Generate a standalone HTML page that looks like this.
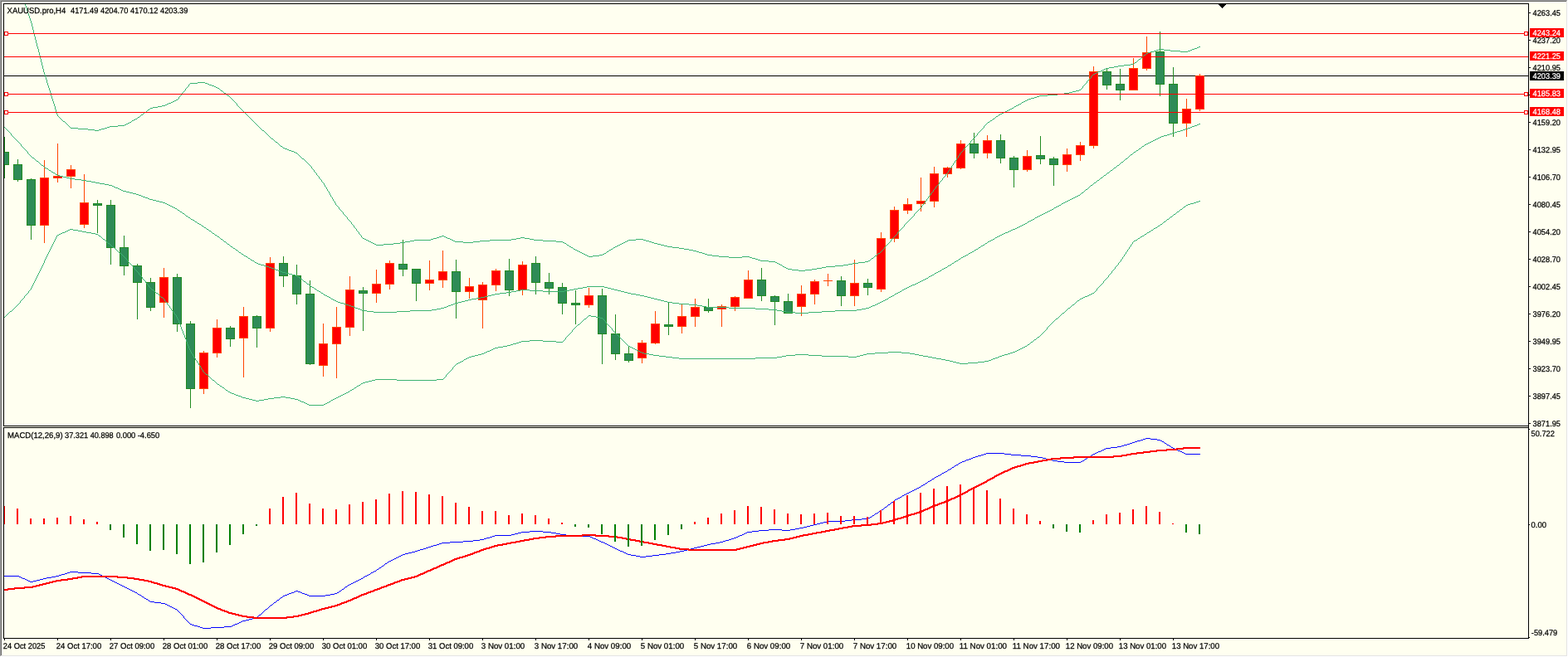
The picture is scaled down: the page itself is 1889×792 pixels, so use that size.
<!DOCTYPE html>
<html lang="en"><head><meta charset="utf-8"><title>XAUUSD.pro,H4</title>
<style>html,body{margin:0;padding:0;width:1889px;height:792px;overflow:hidden;background:#fffff0}svg{display:block;position:absolute;left:0;top:0}text{text-rendering:geometricPrecision;font-family:"Liberation Sans",sans-serif;font-size:9.8px;fill:#000;stroke:#000;stroke-width:0.25px}</style></head><body>
<svg width="1889" height="792" viewBox="0 0 1889 792" shape-rendering="crispEdges">
<rect x="0" y="0" width="1889" height="792" fill="#fffff0"/>
<rect x="0" y="0" width="1889" height="1" fill="#a0a0a0"/><rect x="0" y="0" width="1" height="792" fill="#a0a0a0"/>
<rect x="1" y="1" width="1887" height="1" fill="#696969"/><rect x="1" y="1" width="1" height="790" fill="#696969"/>
<rect x="1887" y="1" width="1" height="790" fill="#e3e3e3"/><rect x="1" y="790" width="1887" height="1" fill="#e3e3e3"/>
<rect x="1888" y="0" width="1" height="792" fill="#ffffff"/><rect x="0" y="791" width="1889" height="1" fill="#ffffff"/>
<defs><clipPath id="cm"><rect x="5" y="5" width="1836" height="508"/></clipPath><clipPath id="cs"><rect x="5" y="516" width="1836" height="253"/></clipPath></defs>
<g clip-path="url(#cm)">
<rect x="5" y="91" width="1836" height="1" fill="#000000"/>
<rect x="5" y="165" width="1" height="50" fill="#228b22"/>
<rect x="0" y="183" width="11" height="16" fill="#228b22"/>
<rect x="1" y="184" width="9" height="14" fill="#2e8b57"/>
<rect x="21" y="192" width="1" height="27" fill="#228b22"/>
<rect x="16" y="198" width="11" height="19" fill="#228b22"/>
<rect x="17" y="199" width="9" height="17" fill="#2e8b57"/>
<rect x="37" y="215" width="1" height="74" fill="#228b22"/>
<rect x="32" y="216" width="11" height="56" fill="#228b22"/>
<rect x="33" y="217" width="9" height="54" fill="#2e8b57"/>
<rect x="53" y="193" width="1" height="100" fill="#ff4500"/>
<rect x="48" y="214" width="11" height="58" fill="#ff4500"/>
<rect x="49" y="215" width="9" height="56" fill="#ff0000"/>
<rect x="69" y="173" width="1" height="47" fill="#ff4500"/>
<rect x="64" y="212" width="11" height="3" fill="#ff4500"/>
<rect x="65" y="213" width="9" height="1" fill="#ff0000"/>
<rect x="85" y="199" width="1" height="28" fill="#ff4500"/>
<rect x="80" y="204" width="11" height="9" fill="#ff4500"/>
<rect x="81" y="205" width="9" height="7" fill="#ff0000"/>
<rect x="101" y="210" width="1" height="65" fill="#ff4500"/>
<rect x="96" y="244" width="11" height="27" fill="#ff4500"/>
<rect x="97" y="245" width="9" height="25" fill="#ff0000"/>
<rect x="117" y="241" width="1" height="40" fill="#228b22"/>
<rect x="112" y="245" width="11" height="3" fill="#228b22"/>
<rect x="113" y="246" width="9" height="1" fill="#2e8b57"/>
<rect x="133" y="241" width="1" height="78" fill="#228b22"/>
<rect x="128" y="247" width="11" height="52" fill="#228b22"/>
<rect x="129" y="248" width="9" height="50" fill="#2e8b57"/>
<rect x="149" y="284" width="1" height="48" fill="#228b22"/>
<rect x="144" y="298" width="11" height="23" fill="#228b22"/>
<rect x="145" y="299" width="9" height="21" fill="#2e8b57"/>
<rect x="165" y="318" width="1" height="67" fill="#228b22"/>
<rect x="160" y="320" width="11" height="21" fill="#228b22"/>
<rect x="161" y="321" width="9" height="19" fill="#2e8b57"/>
<rect x="181" y="335" width="1" height="40" fill="#228b22"/>
<rect x="176" y="340" width="11" height="31" fill="#228b22"/>
<rect x="177" y="341" width="9" height="29" fill="#2e8b57"/>
<rect x="197" y="323" width="1" height="60" fill="#ff4500"/>
<rect x="192" y="334" width="11" height="31" fill="#ff4500"/>
<rect x="193" y="335" width="9" height="29" fill="#ff0000"/>
<rect x="213" y="330" width="1" height="70" fill="#228b22"/>
<rect x="208" y="334" width="11" height="57" fill="#228b22"/>
<rect x="209" y="335" width="9" height="55" fill="#2e8b57"/>
<rect x="229" y="387" width="1" height="105" fill="#228b22"/>
<rect x="224" y="390" width="11" height="79" fill="#228b22"/>
<rect x="225" y="391" width="9" height="77" fill="#2e8b57"/>
<rect x="245" y="423" width="1" height="52" fill="#ff4500"/>
<rect x="240" y="425" width="11" height="44" fill="#ff4500"/>
<rect x="241" y="426" width="9" height="42" fill="#ff0000"/>
<rect x="261" y="385" width="1" height="46" fill="#ff4500"/>
<rect x="256" y="395" width="11" height="31" fill="#ff4500"/>
<rect x="257" y="396" width="9" height="29" fill="#ff0000"/>
<rect x="277" y="393" width="1" height="25" fill="#228b22"/>
<rect x="272" y="395" width="11" height="14" fill="#228b22"/>
<rect x="273" y="396" width="9" height="12" fill="#2e8b57"/>
<rect x="293" y="370" width="1" height="85" fill="#ff4500"/>
<rect x="288" y="381" width="11" height="27" fill="#ff4500"/>
<rect x="289" y="382" width="9" height="25" fill="#ff0000"/>
<rect x="309" y="380" width="1" height="39" fill="#228b22"/>
<rect x="304" y="381" width="11" height="15" fill="#228b22"/>
<rect x="305" y="382" width="9" height="13" fill="#2e8b57"/>
<rect x="325" y="310" width="1" height="90" fill="#ff4500"/>
<rect x="320" y="317" width="11" height="79" fill="#ff4500"/>
<rect x="321" y="318" width="9" height="77" fill="#ff0000"/>
<rect x="341" y="309" width="1" height="37" fill="#228b22"/>
<rect x="336" y="317" width="11" height="16" fill="#228b22"/>
<rect x="337" y="318" width="9" height="14" fill="#2e8b57"/>
<rect x="357" y="319" width="1" height="48" fill="#228b22"/>
<rect x="352" y="332" width="11" height="23" fill="#228b22"/>
<rect x="353" y="333" width="9" height="21" fill="#2e8b57"/>
<rect x="373" y="338" width="1" height="102" fill="#228b22"/>
<rect x="368" y="354" width="11" height="85" fill="#228b22"/>
<rect x="369" y="355" width="9" height="83" fill="#2e8b57"/>
<rect x="389" y="390" width="1" height="64" fill="#ff4500"/>
<rect x="384" y="414" width="11" height="27" fill="#ff4500"/>
<rect x="385" y="415" width="9" height="25" fill="#ff0000"/>
<rect x="405" y="370" width="1" height="86" fill="#ff4500"/>
<rect x="400" y="394" width="11" height="21" fill="#ff4500"/>
<rect x="401" y="395" width="9" height="19" fill="#ff0000"/>
<rect x="421" y="333" width="1" height="72" fill="#ff4500"/>
<rect x="416" y="349" width="11" height="46" fill="#ff4500"/>
<rect x="417" y="350" width="9" height="44" fill="#ff0000"/>
<rect x="437" y="346" width="1" height="53" fill="#228b22"/>
<rect x="432" y="350" width="11" height="4" fill="#228b22"/>
<rect x="433" y="351" width="9" height="2" fill="#2e8b57"/>
<rect x="453" y="325" width="1" height="40" fill="#ff4500"/>
<rect x="448" y="342" width="11" height="12" fill="#ff4500"/>
<rect x="449" y="343" width="9" height="10" fill="#ff0000"/>
<rect x="469" y="314" width="1" height="35" fill="#ff4500"/>
<rect x="464" y="317" width="11" height="26" fill="#ff4500"/>
<rect x="465" y="318" width="9" height="24" fill="#ff0000"/>
<rect x="485" y="289" width="1" height="44" fill="#228b22"/>
<rect x="480" y="318" width="11" height="7" fill="#228b22"/>
<rect x="481" y="319" width="9" height="5" fill="#2e8b57"/>
<rect x="501" y="324" width="1" height="39" fill="#228b22"/>
<rect x="496" y="324" width="11" height="18" fill="#228b22"/>
<rect x="497" y="325" width="9" height="16" fill="#2e8b57"/>
<rect x="517" y="314" width="1" height="36" fill="#ff4500"/>
<rect x="512" y="337" width="11" height="5" fill="#ff4500"/>
<rect x="513" y="338" width="9" height="3" fill="#ff0000"/>
<rect x="533" y="302" width="1" height="45" fill="#ff4500"/>
<rect x="528" y="327" width="11" height="11" fill="#ff4500"/>
<rect x="529" y="328" width="9" height="9" fill="#ff0000"/>
<rect x="549" y="313" width="1" height="71" fill="#228b22"/>
<rect x="544" y="327" width="11" height="25" fill="#228b22"/>
<rect x="545" y="328" width="9" height="23" fill="#2e8b57"/>
<rect x="565" y="335" width="1" height="25" fill="#ff4500"/>
<rect x="560" y="345" width="11" height="7" fill="#ff4500"/>
<rect x="561" y="346" width="9" height="5" fill="#ff0000"/>
<rect x="581" y="340" width="1" height="56" fill="#ff4500"/>
<rect x="576" y="343" width="11" height="19" fill="#ff4500"/>
<rect x="577" y="344" width="9" height="17" fill="#ff0000"/>
<rect x="597" y="324" width="1" height="27" fill="#ff4500"/>
<rect x="592" y="326" width="11" height="18" fill="#ff4500"/>
<rect x="593" y="327" width="9" height="16" fill="#ff0000"/>
<rect x="613" y="312" width="1" height="45" fill="#228b22"/>
<rect x="608" y="326" width="11" height="24" fill="#228b22"/>
<rect x="609" y="327" width="9" height="22" fill="#2e8b57"/>
<rect x="629" y="315" width="1" height="41" fill="#ff4500"/>
<rect x="624" y="319" width="11" height="31" fill="#ff4500"/>
<rect x="625" y="320" width="9" height="29" fill="#ff0000"/>
<rect x="645" y="309" width="1" height="46" fill="#228b22"/>
<rect x="640" y="317" width="11" height="24" fill="#228b22"/>
<rect x="641" y="318" width="9" height="22" fill="#2e8b57"/>
<rect x="661" y="329" width="1" height="26" fill="#228b22"/>
<rect x="656" y="340" width="11" height="8" fill="#228b22"/>
<rect x="657" y="341" width="9" height="6" fill="#2e8b57"/>
<rect x="677" y="341" width="1" height="38" fill="#228b22"/>
<rect x="672" y="346" width="11" height="20" fill="#228b22"/>
<rect x="673" y="347" width="9" height="18" fill="#2e8b57"/>
<rect x="693" y="350" width="1" height="41" fill="#228b22"/>
<rect x="688" y="365" width="11" height="3" fill="#228b22"/>
<rect x="689" y="366" width="9" height="1" fill="#2e8b57"/>
<rect x="709" y="347" width="1" height="24" fill="#ff4500"/>
<rect x="704" y="356" width="11" height="12" fill="#ff4500"/>
<rect x="705" y="357" width="9" height="10" fill="#ff0000"/>
<rect x="725" y="348" width="1" height="91" fill="#228b22"/>
<rect x="720" y="356" width="11" height="47" fill="#228b22"/>
<rect x="721" y="357" width="9" height="45" fill="#2e8b57"/>
<rect x="741" y="379" width="1" height="55" fill="#228b22"/>
<rect x="736" y="402" width="11" height="25" fill="#228b22"/>
<rect x="737" y="403" width="9" height="23" fill="#2e8b57"/>
<rect x="757" y="417" width="1" height="20" fill="#228b22"/>
<rect x="752" y="426" width="11" height="9" fill="#228b22"/>
<rect x="753" y="427" width="9" height="7" fill="#2e8b57"/>
<rect x="773" y="410" width="1" height="28" fill="#ff4500"/>
<rect x="768" y="413" width="11" height="19" fill="#ff4500"/>
<rect x="769" y="414" width="9" height="17" fill="#ff0000"/>
<rect x="789" y="375" width="1" height="40" fill="#ff4500"/>
<rect x="784" y="390" width="11" height="24" fill="#ff4500"/>
<rect x="785" y="391" width="9" height="22" fill="#ff0000"/>
<rect x="805" y="364" width="1" height="40" fill="#228b22"/>
<rect x="800" y="391" width="11" height="3" fill="#228b22"/>
<rect x="801" y="392" width="9" height="1" fill="#2e8b57"/>
<rect x="821" y="367" width="1" height="35" fill="#ff4500"/>
<rect x="816" y="381" width="11" height="13" fill="#ff4500"/>
<rect x="817" y="382" width="9" height="11" fill="#ff0000"/>
<rect x="837" y="360" width="1" height="34" fill="#ff4500"/>
<rect x="832" y="370" width="11" height="12" fill="#ff4500"/>
<rect x="833" y="371" width="9" height="10" fill="#ff0000"/>
<rect x="853" y="360" width="1" height="17" fill="#228b22"/>
<rect x="848" y="370" width="11" height="5" fill="#228b22"/>
<rect x="849" y="371" width="9" height="3" fill="#2e8b57"/>
<rect x="869" y="367" width="1" height="27" fill="#ff4500"/>
<rect x="864" y="369" width="11" height="4" fill="#ff4500"/>
<rect x="865" y="370" width="9" height="2" fill="#ff0000"/>
<rect x="885" y="357" width="1" height="18" fill="#ff4500"/>
<rect x="880" y="358" width="11" height="12" fill="#ff4500"/>
<rect x="881" y="359" width="9" height="10" fill="#ff0000"/>
<rect x="901" y="326" width="1" height="34" fill="#ff4500"/>
<rect x="896" y="337" width="11" height="23" fill="#ff4500"/>
<rect x="897" y="338" width="9" height="21" fill="#ff0000"/>
<rect x="917" y="323" width="1" height="40" fill="#228b22"/>
<rect x="912" y="337" width="11" height="20" fill="#228b22"/>
<rect x="913" y="338" width="9" height="18" fill="#2e8b57"/>
<rect x="933" y="356" width="1" height="36" fill="#228b22"/>
<rect x="928" y="357" width="11" height="7" fill="#228b22"/>
<rect x="929" y="358" width="9" height="5" fill="#2e8b57"/>
<rect x="949" y="354" width="1" height="24" fill="#228b22"/>
<rect x="944" y="363" width="11" height="15" fill="#228b22"/>
<rect x="945" y="364" width="9" height="13" fill="#2e8b57"/>
<rect x="965" y="344" width="1" height="37" fill="#ff4500"/>
<rect x="960" y="354" width="11" height="16" fill="#ff4500"/>
<rect x="961" y="355" width="9" height="14" fill="#ff0000"/>
<rect x="981" y="337" width="1" height="30" fill="#ff4500"/>
<rect x="976" y="339" width="11" height="16" fill="#ff4500"/>
<rect x="977" y="340" width="9" height="14" fill="#ff0000"/>
<rect x="997" y="330" width="1" height="15" fill="#ff4500"/>
<rect x="992" y="338" width="11" height="1" fill="#ff4500"/>
<rect x="1013" y="333" width="1" height="36" fill="#228b22"/>
<rect x="1008" y="338" width="11" height="19" fill="#228b22"/>
<rect x="1009" y="339" width="9" height="17" fill="#2e8b57"/>
<rect x="1029" y="313" width="1" height="56" fill="#ff4500"/>
<rect x="1024" y="341" width="11" height="16" fill="#ff4500"/>
<rect x="1025" y="342" width="9" height="14" fill="#ff0000"/>
<rect x="1045" y="336" width="1" height="20" fill="#228b22"/>
<rect x="1040" y="341" width="11" height="6" fill="#228b22"/>
<rect x="1041" y="342" width="9" height="4" fill="#2e8b57"/>
<rect x="1061" y="280" width="1" height="72" fill="#ff4500"/>
<rect x="1056" y="287" width="11" height="62" fill="#ff4500"/>
<rect x="1057" y="288" width="9" height="60" fill="#ff0000"/>
<rect x="1077" y="249" width="1" height="43" fill="#ff4500"/>
<rect x="1072" y="253" width="11" height="35" fill="#ff4500"/>
<rect x="1073" y="254" width="9" height="33" fill="#ff0000"/>
<rect x="1093" y="239" width="1" height="19" fill="#ff4500"/>
<rect x="1088" y="246" width="11" height="8" fill="#ff4500"/>
<rect x="1089" y="247" width="9" height="6" fill="#ff0000"/>
<rect x="1109" y="214" width="1" height="41" fill="#ff4500"/>
<rect x="1104" y="242" width="11" height="4" fill="#ff4500"/>
<rect x="1105" y="243" width="9" height="2" fill="#ff0000"/>
<rect x="1125" y="201" width="1" height="49" fill="#ff4500"/>
<rect x="1120" y="209" width="11" height="34" fill="#ff4500"/>
<rect x="1121" y="210" width="9" height="32" fill="#ff0000"/>
<rect x="1141" y="201" width="1" height="13" fill="#ff4500"/>
<rect x="1136" y="202" width="11" height="8" fill="#ff4500"/>
<rect x="1137" y="203" width="9" height="6" fill="#ff0000"/>
<rect x="1157" y="169" width="1" height="35" fill="#ff4500"/>
<rect x="1152" y="173" width="11" height="30" fill="#ff4500"/>
<rect x="1153" y="174" width="9" height="28" fill="#ff0000"/>
<rect x="1173" y="160" width="1" height="31" fill="#228b22"/>
<rect x="1168" y="173" width="11" height="12" fill="#228b22"/>
<rect x="1169" y="174" width="9" height="10" fill="#2e8b57"/>
<rect x="1189" y="163" width="1" height="28" fill="#ff4500"/>
<rect x="1184" y="169" width="11" height="16" fill="#ff4500"/>
<rect x="1185" y="170" width="9" height="14" fill="#ff0000"/>
<rect x="1205" y="162" width="1" height="35" fill="#228b22"/>
<rect x="1200" y="169" width="11" height="22" fill="#228b22"/>
<rect x="1201" y="170" width="9" height="20" fill="#2e8b57"/>
<rect x="1221" y="188" width="1" height="38" fill="#228b22"/>
<rect x="1216" y="190" width="11" height="15" fill="#228b22"/>
<rect x="1217" y="191" width="9" height="13" fill="#2e8b57"/>
<rect x="1237" y="181" width="1" height="26" fill="#ff4500"/>
<rect x="1232" y="188" width="11" height="17" fill="#ff4500"/>
<rect x="1233" y="189" width="9" height="15" fill="#ff0000"/>
<rect x="1253" y="164" width="1" height="34" fill="#228b22"/>
<rect x="1248" y="187" width="11" height="5" fill="#228b22"/>
<rect x="1249" y="188" width="9" height="3" fill="#2e8b57"/>
<rect x="1269" y="189" width="1" height="35" fill="#228b22"/>
<rect x="1264" y="191" width="11" height="8" fill="#228b22"/>
<rect x="1265" y="192" width="9" height="6" fill="#2e8b57"/>
<rect x="1285" y="179" width="1" height="28" fill="#ff4500"/>
<rect x="1280" y="186" width="11" height="13" fill="#ff4500"/>
<rect x="1281" y="187" width="9" height="11" fill="#ff0000"/>
<rect x="1301" y="171" width="1" height="23" fill="#ff4500"/>
<rect x="1296" y="175" width="11" height="12" fill="#ff4500"/>
<rect x="1297" y="176" width="9" height="10" fill="#ff0000"/>
<rect x="1317" y="80" width="1" height="99" fill="#ff4500"/>
<rect x="1312" y="86" width="11" height="90" fill="#ff4500"/>
<rect x="1313" y="87" width="9" height="88" fill="#ff0000"/>
<rect x="1333" y="82" width="1" height="26" fill="#228b22"/>
<rect x="1328" y="86" width="11" height="17" fill="#228b22"/>
<rect x="1329" y="87" width="9" height="15" fill="#2e8b57"/>
<rect x="1349" y="83" width="1" height="38" fill="#228b22"/>
<rect x="1344" y="101" width="11" height="8" fill="#228b22"/>
<rect x="1345" y="102" width="9" height="6" fill="#2e8b57"/>
<rect x="1365" y="70" width="1" height="39" fill="#ff4500"/>
<rect x="1360" y="82" width="11" height="27" fill="#ff4500"/>
<rect x="1361" y="83" width="9" height="25" fill="#ff0000"/>
<rect x="1381" y="44" width="1" height="41" fill="#ff4500"/>
<rect x="1376" y="63" width="11" height="20" fill="#ff4500"/>
<rect x="1377" y="64" width="9" height="18" fill="#ff0000"/>
<rect x="1397" y="38" width="1" height="78" fill="#228b22"/>
<rect x="1392" y="62" width="11" height="40" fill="#228b22"/>
<rect x="1393" y="63" width="9" height="38" fill="#2e8b57"/>
<rect x="1413" y="81" width="1" height="84" fill="#228b22"/>
<rect x="1408" y="101" width="11" height="48" fill="#228b22"/>
<rect x="1409" y="102" width="9" height="46" fill="#2e8b57"/>
<rect x="1429" y="119" width="1" height="46" fill="#ff4500"/>
<rect x="1424" y="131" width="11" height="18" fill="#ff4500"/>
<rect x="1425" y="132" width="9" height="16" fill="#ff0000"/>
<rect x="1445" y="89" width="1" height="45" fill="#ff4500"/>
<rect x="1440" y="91" width="11" height="41" fill="#ff4500"/>
<rect x="1441" y="92" width="9" height="39" fill="#ff0000"/>
<path d="M1444 56.5h2M1442 57.5h2M1439 58.5h3M1396 59.5h6M1436 59.5h3M1393 60.5h3M1402 60.5h8M1434 60.5h2M1390 61.5h3M1410 61.5h12M1431 61.5h3M1386 62.5h4M1422 62.5h9M1383 63.5h3M1381 64.5h2M1378 66.5h2M1372 71.5h2M1367 75.5h2M1362 77.5h4M1354 78.5h8M1347 79.5h7M1342 80.5h5M1336 81.5h6M1332 82.5h4M1330 83.5h2M1328 84.5h2M1326 85.5h2M1323 86.5h3M1321 87.5h2M1319 88.5h2M1317 89.5h2M238 99.5h9M229 100.5h9M247 100.5h3M250 101.5h2M252 102.5h3M255 103.5h3M258 104.5h2M260 105.5h2M262 106.5h2M1300 108.5h2M266 109.5h2M1296 109.5h4M1292 110.5h4M1288 111.5h4M270 112.5h2M1282 112.5h6M1274 113.5h8M1262 114.5h12M274 115.5h2M1252 115.5h10M1249 116.5h3M1246 117.5h3M1242 118.5h4M1239 119.5h3M212 120.5h2M1237 120.5h2M210 121.5h2M1235 121.5h2M208 122.5h2M1233 122.5h2M206 123.5h2M1231 123.5h2M203 124.5h3M201 125.5h2M1228 125.5h2M199 126.5h2M1226 126.5h2M195 127.5h4M1224 127.5h2M190 128.5h5M1222 128.5h2M184 129.5h6M181 130.5h3M1219 130.5h2M1217 131.5h2M178 132.5h2M1215 132.5h2M1213 133.5h2M1211 134.5h2M174 135.5h2M1209 135.5h2M1207 136.5h2M1205 137.5h2M170 138.5h2M1203 138.5h2M1200 140.5h2M166 141.5h2M163 143.5h2M1196 143.5h2M161 144.5h2M159 145.5h2M1193 145.5h2M76 146.5h2M156 147.5h2M1190 147.5h2M154 148.5h2M152 149.5h2M150 150.5h2M142 151.5h8M132 152.5h10M129 153.5h3M85 154.5h9M126 154.5h3M94 155.5h12M122 155.5h4M106 156.5h8M119 156.5h3M114 157.5h5M316 157.5h2M327 167.5h2M332 171.5h2M338 176.5h2M341 178.5h2M343 179.5h3M346 180.5h2M348 181.5h3M351 182.5h3M354 183.5h2M356 184.5h2M364 191.5h2M532 284.5h3M529 285.5h3M535 285.5h2M526 286.5h3M537 286.5h2M627 286.5h5M437 287.5h2M522 287.5h4M539 287.5h3M622 287.5h5M632 287.5h6M439 288.5h2M519 288.5h3M542 288.5h2M616 288.5h6M638 288.5h5M766 288.5h9M441 289.5h2M499 289.5h20M544 289.5h2M590 289.5h26M643 289.5h11M757 289.5h9M775 289.5h3M443 290.5h2M494 290.5h5M546 290.5h2M578 290.5h12M654 290.5h16M755 290.5h2M778 290.5h4M445 291.5h2M488 291.5h6M548 291.5h10M570 291.5h8M670 291.5h8M753 291.5h2M782 291.5h3M447 292.5h2M482 292.5h6M558 292.5h12M678 292.5h2M751 292.5h2M785 292.5h3M449 293.5h2M474 293.5h8M680 293.5h2M749 293.5h2M788 293.5h4M451 294.5h2M462 294.5h12M747 294.5h2M792 294.5h4M453 295.5h9M683 295.5h2M745 295.5h2M796 295.5h4M743 296.5h2M800 296.5h4M686 297.5h2M741 297.5h2M804 297.5h6M688 298.5h2M739 298.5h2M810 298.5h8M818 299.5h6M691 300.5h2M736 300.5h2M824 300.5h6M693 301.5h2M734 301.5h2M830 301.5h5M695 302.5h2M835 302.5h4M697 303.5h2M731 303.5h2M839 303.5h3M699 304.5h2M842 304.5h4M701 305.5h2M728 305.5h2M846 305.5h3M1058 305.5h2M703 306.5h2M726 306.5h2M849 306.5h3M705 307.5h2M722 307.5h4M852 307.5h6M707 308.5h2M714 308.5h8M858 308.5h8M1054 308.5h2M709 309.5h5M866 309.5h12M894 309.5h9M878 310.5h16M903 310.5h3M906 311.5h4M1050 311.5h2M910 312.5h3M913 313.5h3M916 314.5h10M1046 314.5h2M926 315.5h8M1042 315.5h4M934 316.5h2M1034 316.5h8M936 317.5h2M1027 317.5h7M938 318.5h2M1022 318.5h5M940 319.5h2M1016 319.5h6M1006 320.5h10M943 321.5h2M995 321.5h11M945 322.5h2M990 322.5h5M947 323.5h2M984 323.5h6M949 324.5h5M978 324.5h6M954 325.5h8M970 325.5h8M962 326.5h8M13.5 -50v3M14.5 -47v4M15.5 -43v3M16.5 -40v3M17.5 -37v4M18.5 -33v3M19.5 -30v3M20.5 -27v4M21.5 -23v3M22.5 -20v3M23.5 -17v3M24.5 -14v3M25.5 -11v3M26.5 -8v3M27.5 -5v3M28.5 -2v3M29.5 1v3M30.5 4v3M31.5 7v3M32.5 10v3M33.5 13v3M34.5 16v3M35.5 19v3M36.5 22v3M37.5 25v3M38.5 28v4M39.5 32v4M40.5 36v4M41.5 40v4M42.5 44v4M43.5 48v4M44.5 52v4M45.5 56v3M46.5 59v4M47.5 63v4M48.5 67v4M49.5 71v4M50.5 75v4M51.5 79v4M52.5 83v4M53.5 87v3M54.5 90v3M55.5 93v3M56.5 96v4M57.5 100v3M58.5 103v3M59.5 106v3M60.5 109v3M61.5 112v4M62.5 116v3M63.5 119v3M64.5 122v3M65.5 125v3M66.5 128v4M67.5 132v3M68.5 135v3M69.5 138v2M70.5 140v1M71.5 141v1M72.5 142v1M73.5 143v1M74.5 144v1M75.5 145v1M78.5 147v1M79.5 148v1M80.5 149v1M81.5 150v1M82.5 151v1M83.5 152v1M84.5 153v1M158.5 146v1M165.5 142v1M168.5 140v1M169.5 139v1M172.5 137v1M173.5 136v1M176.5 134v1M177.5 133v1M180.5 131v1M214.5 119v1M215.5 117v2M216.5 116v1M217.5 115v1M218.5 114v1M219.5 112v2M220.5 111v1M221.5 110v1M222.5 109v1M223.5 107v2M224.5 106v1M225.5 105v1M226.5 104v1M227.5 102v2M228.5 101v1M264.5 107v1M265.5 108v1M268.5 110v1M269.5 111v1M272.5 113v1M273.5 114v1M276.5 116v1M277.5 117v1M278.5 118v1M279.5 119v1M280.5 120v1M281.5 121v1M282.5 122v1M283.5 123v1M284.5 124v1M285.5 125v2M286.5 127v1M287.5 128v1M288.5 129v1M289.5 130v1M290.5 131v1M291.5 132v1M292.5 133v1M293.5 134v1M294.5 135v1M295.5 136v1M296.5 137v1M297.5 138v1M298.5 139v1M299.5 140v1M300.5 141v1M301.5 142v1M302.5 143v1M303.5 144v1M304.5 145v1M305.5 146v1M306.5 147v1M307.5 148v1M308.5 149v1M309.5 150v1M310.5 151v1M311.5 152v1M312.5 153v1M313.5 154v1M314.5 155v1M315.5 156v1M318.5 158v1M319.5 159v1M320.5 160v1M321.5 161v1M322.5 162v1M323.5 163v1M324.5 164v1M325.5 165v1M326.5 166v1M329.5 168v1M330.5 169v1M331.5 170v1M334.5 172v1M335.5 173v1M336.5 174v1M337.5 175v1M340.5 177v1M358.5 185v1M359.5 186v1M360.5 187v1M361.5 188v1M362.5 189v1M363.5 190v1M366.5 192v1M367.5 193v1M368.5 194v1M369.5 195v1M370.5 196v1M371.5 197v1M372.5 198v1M373.5 199v1M374.5 200v1M375.5 201v2M376.5 203v1M377.5 204v1M378.5 205v2M379.5 207v1M380.5 208v1M381.5 209v2M382.5 211v1M383.5 212v1M384.5 213v2M385.5 215v1M386.5 216v1M387.5 217v2M388.5 219v1M389.5 220v1M390.5 221v2M391.5 223v2M392.5 225v1M393.5 226v2M394.5 228v2M395.5 230v1M396.5 231v2M397.5 233v2M398.5 235v2M399.5 237v1M400.5 238v2M401.5 240v2M402.5 242v1M403.5 243v2M404.5 245v2M405.5 247v1M406.5 248v1M407.5 249v1M408.5 250v2M409.5 252v1M410.5 253v1M411.5 254v1M412.5 255v1M413.5 256v2M414.5 258v1M415.5 259v1M416.5 260v1M417.5 261v1M418.5 262v2M419.5 264v1M420.5 265v1M421.5 266v1M422.5 267v1M423.5 268v2M424.5 270v1M425.5 271v1M426.5 272v2M427.5 274v1M428.5 275v1M429.5 276v2M430.5 278v1M431.5 279v1M432.5 280v2M433.5 282v1M434.5 283v1M435.5 284v2M436.5 286v1M682.5 294v1M685.5 296v1M690.5 299v1M730.5 304v1M733.5 302v1M738.5 299v1M942.5 320v1M1048.5 313v1M1049.5 312v1M1052.5 310v1M1053.5 309v1M1056.5 307v1M1057.5 306v1M1060.5 304v1M1061.5 303v1M1062.5 302v1M1063.5 301v1M1064.5 300v1M1065.5 298v2M1066.5 297v1M1067.5 296v1M1068.5 295v1M1069.5 294v1M1070.5 293v1M1071.5 292v1M1072.5 291v1M1073.5 289v2M1074.5 288v1M1075.5 287v1M1076.5 286v1M1077.5 285v1M1078.5 284v1M1079.5 283v1M1080.5 282v1M1081.5 280v2M1082.5 279v1M1083.5 278v1M1084.5 277v1M1085.5 276v1M1086.5 275v1M1087.5 274v1M1088.5 273v1M1089.5 271v2M1090.5 270v1M1091.5 269v1M1092.5 268v1M1093.5 267v1M1094.5 266v1M1095.5 265v1M1096.5 264v1M1097.5 263v1M1098.5 262v1M1099.5 261v1M1100.5 260v1M1101.5 258v2M1102.5 257v1M1103.5 256v1M1104.5 255v1M1105.5 254v1M1106.5 253v1M1107.5 252v1M1108.5 251v1M1109.5 250v1M1110.5 248v2M1111.5 247v1M1112.5 246v1M1113.5 244v2M1114.5 243v1M1115.5 242v1M1116.5 240v2M1117.5 239v1M1118.5 237v2M1119.5 236v1M1120.5 235v1M1121.5 233v2M1122.5 232v1M1123.5 231v1M1124.5 229v2M1125.5 228v1M1126.5 227v1M1127.5 225v2M1128.5 224v1M1129.5 223v1M1130.5 222v1M1131.5 220v2M1132.5 219v1M1133.5 218v1M1134.5 217v1M1135.5 215v2M1136.5 214v1M1137.5 213v1M1138.5 212v1M1139.5 210v2M1140.5 209v1M1141.5 208v1M1142.5 206v2M1143.5 205v1M1144.5 203v2M1145.5 202v1M1146.5 200v2M1147.5 199v1M1148.5 197v2M1149.5 196v1M1150.5 194v2M1151.5 193v1M1152.5 191v2M1153.5 190v1M1154.5 188v2M1155.5 187v1M1156.5 185v2M1157.5 184v1M1158.5 183v1M1159.5 182v1M1160.5 181v1M1161.5 179v2M1162.5 178v1M1163.5 177v1M1164.5 176v1M1165.5 175v1M1166.5 174v1M1167.5 173v1M1168.5 172v1M1169.5 170v2M1170.5 169v1M1171.5 168v1M1172.5 167v1M1173.5 166v1M1174.5 165v1M1175.5 164v1M1176.5 163v1M1177.5 161v2M1178.5 160v1M1179.5 159v1M1180.5 158v1M1181.5 157v1M1182.5 156v1M1183.5 155v1M1184.5 154v1M1185.5 152v2M1186.5 151v1M1187.5 150v1M1188.5 149v1M1189.5 148v1M1192.5 146v1M1195.5 144v1M1198.5 142v1M1199.5 141v1M1202.5 139v1M1221.5 129v1M1230.5 124v1M1302.5 107v1M1303.5 106v1M1304.5 104v2M1305.5 103v1M1306.5 102v1M1307.5 101v1M1308.5 100v1M1309.5 98v2M1310.5 97v1M1311.5 96v1M1312.5 95v1M1313.5 94v1M1314.5 92v2M1315.5 91v1M1316.5 90v1M1366.5 76v1M1369.5 74v1M1370.5 73v1M1371.5 72v1M1374.5 70v1M1375.5 69v1M1376.5 68v1M1377.5 67v1M1380.5 65v1" fill="none" stroke="#3cb371" stroke-width="1"/>
<path d="M1444 149.5h2M1442 150.5h2M1439 151.5h3M1436 152.5h3M1434 153.5h2M1431 154.5h3M1428 155.5h3M1425 156.5h3M1422 157.5h3M1418 158.5h4M1415 159.5h3M1412 160.5h3M1409 161.5h3M1406 162.5h3M1402 163.5h4M1399 164.5h3M1397 165.5h2M1395 166.5h2M1393 167.5h2M1391 168.5h2M1389 169.5h2M1387 170.5h2M1385 171.5h2M1383 172.5h2M1381 173.5h2M1379 174.5h2M1376 176.5h2M1372 179.5h2M1369 181.5h2M1366 183.5h2M1362 186.5h2M39 190.5h2M1356 191.5h2M44 194.5h2M1351 195.5h2M50 199.5h2M1346 199.5h2M54 202.5h2M1342 202.5h2M56 203.5h2M59 205.5h2M1338 205.5h2M62 207.5h2M64 208.5h2M1334 208.5h2M67 210.5h2M69 211.5h3M1330 211.5h2M72 212.5h4M76 213.5h4M80 214.5h4M1326 214.5h2M84 215.5h6M90 216.5h8M98 217.5h6M1322 217.5h2M104 218.5h6M110 219.5h5M115 220.5h5M1318 220.5h2M120 221.5h6M126 222.5h5M131 223.5h4M1314 223.5h2M135 224.5h2M137 225.5h2M139 226.5h3M142 227.5h2M144 228.5h2M1308 228.5h2M146 229.5h2M148 230.5h4M152 231.5h4M156 232.5h4M1303 232.5h2M160 233.5h4M164 234.5h3M167 235.5h3M1299 235.5h2M170 236.5h2M1297 236.5h2M172 237.5h3M1295 237.5h2M175 238.5h3M1293 238.5h2M178 239.5h2M1291 239.5h2M180 240.5h4M1289 240.5h2M184 241.5h4M1287 241.5h2M188 242.5h4M1285 242.5h2M192 243.5h4M1283 243.5h2M196 244.5h3M1281 244.5h2M199 245.5h2M1279 245.5h2M201 246.5h2M203 247.5h2M1276 247.5h2M205 248.5h2M1274 248.5h2M207 249.5h2M1272 249.5h2M209 250.5h2M1270 250.5h2M211 251.5h2M1267 252.5h2M214 253.5h2M1265 253.5h2M1263 254.5h2M217 255.5h2M1261 255.5h2M1259 256.5h2M220 257.5h2M1257 257.5h2M1255 258.5h2M1253 259.5h2M224 260.5h2M1251 260.5h2M1249 261.5h2M227 262.5h2M1247 262.5h2M230 264.5h2M1244 264.5h2M232 265.5h2M1242 265.5h2M1240 266.5h2M235 267.5h2M1238 267.5h2M238 269.5h2M1235 269.5h2M240 270.5h2M1233 270.5h2M1231 271.5h2M243 272.5h2M1229 272.5h2M1227 273.5h2M246 274.5h2M1225 274.5h2M1223 275.5h2M249 276.5h2M1220 276.5h3M1218 277.5h2M252 278.5h2M1216 278.5h2M1214 279.5h2M1211 280.5h3M256 281.5h2M1209 281.5h2M1207 282.5h2M259 283.5h2M1205 283.5h2M1203 284.5h2M262 285.5h2M1201 285.5h2M1199 286.5h2M266 288.5h2M1196 288.5h2M1194 289.5h2M1192 290.5h2M270 291.5h2M1190 291.5h2M1187 293.5h2M274 294.5h2M1184 295.5h2M1182 296.5h2M278 297.5h2M1179 298.5h2M281 299.5h2M1176 300.5h2M284 301.5h2M1174 301.5h2M1171 303.5h2M288 304.5h2M1169 304.5h2M1167 305.5h2M291 306.5h2M1164 307.5h2M294 308.5h2M1162 308.5h2M296 309.5h2M1160 309.5h2M1158 310.5h2M299 311.5h2M1155 312.5h2M302 313.5h2M304 314.5h2M1152 314.5h2M1150 315.5h2M307 316.5h2M309 317.5h2M1147 317.5h2M311 318.5h3M314 319.5h4M1144 319.5h2M318 320.5h3M1142 320.5h2M321 321.5h3M324 322.5h3M1139 322.5h2M327 323.5h3M1137 323.5h2M330 324.5h2M1135 324.5h2M332 325.5h3M335 326.5h3M1132 326.5h2M338 327.5h2M1130 327.5h2M340 328.5h4M1128 328.5h2M344 329.5h4M1126 329.5h2M348 330.5h4M352 331.5h4M1123 331.5h2M356 332.5h2M1121 332.5h2M358 333.5h2M1119 333.5h2M1116 335.5h2M362 336.5h2M1114 336.5h2M1112 337.5h2M1110 338.5h2M366 339.5h2M1108 339.5h2M1106 340.5h2M1104 341.5h2M370 342.5h2M1102 342.5h2M1099 343.5h3M1097 344.5h2M374 345.5h2M707 345.5h21M1095 345.5h2M376 346.5h2M702 346.5h5M728 346.5h4M1093 346.5h2M696 347.5h6M732 347.5h4M1091 347.5h2M379 348.5h2M691 348.5h5M736 348.5h4M1089 348.5h2M627 349.5h11M686 349.5h5M740 349.5h4M1087 349.5h2M382 350.5h2M622 350.5h5M638 350.5h16M680 350.5h6M744 350.5h4M384 351.5h2M616 351.5h6M654 351.5h26M748 351.5h4M1084 351.5h2M610 352.5h6M752 352.5h4M1082 352.5h2M387 353.5h2M602 353.5h8M756 353.5h4M1080 353.5h2M596 354.5h6M760 354.5h6M1078 354.5h2M390 355.5h2M592 355.5h4M766 355.5h5M392 356.5h2M588 356.5h4M771 356.5h5M1075 356.5h2M394 357.5h2M584 357.5h4M776 357.5h4M1073 357.5h2M396 358.5h2M579 358.5h5M780 358.5h4M1071 358.5h2M574 359.5h5M784 359.5h4M399 360.5h2M568 360.5h6M788 360.5h4M1068 360.5h2M401 361.5h2M564 361.5h4M792 361.5h4M1066 361.5h2M403 362.5h2M560 362.5h4M796 362.5h4M1064 362.5h2M405 363.5h2M556 363.5h4M800 363.5h4M1062 363.5h2M407 364.5h3M552 364.5h4M804 364.5h6M1060 364.5h2M410 365.5h4M548 365.5h4M810 365.5h8M1058 365.5h2M414 366.5h3M546 366.5h2M818 366.5h12M1056 366.5h2M417 367.5h3M543 367.5h3M830 367.5h10M1054 367.5h2M420 368.5h3M540 368.5h3M840 368.5h6M1051 368.5h3M423 369.5h3M538 369.5h2M846 369.5h5M1049 369.5h2M426 370.5h2M535 370.5h3M851 370.5h27M1047 370.5h2M428 371.5h3M531 371.5h4M878 371.5h32M1043 371.5h4M431 372.5h3M526 372.5h5M910 372.5h16M1038 372.5h5M434 373.5h2M520 373.5h6M926 373.5h10M1032 373.5h6M436 374.5h6M494 374.5h26M936 374.5h6M1006 374.5h26M442 375.5h8M478 375.5h16M942 375.5h5M990 375.5h16M450 376.5h28M947 376.5h11M974 376.5h16M958 377.5h16M5.5 153v1M6.5 154v1M7.5 155v1M8.5 156v1M9.5 157v1M10.5 158v1M11.5 159v1M12.5 160v1M13.5 161v2M14.5 163v1M15.5 164v1M16.5 165v1M17.5 166v1M18.5 167v1M19.5 168v1M20.5 169v1M21.5 170v1M22.5 171v1M23.5 172v1M24.5 173v1M25.5 174v2M26.5 176v1M27.5 177v1M28.5 178v1M29.5 179v1M30.5 180v1M31.5 181v1M32.5 182v1M33.5 183v2M34.5 185v1M35.5 186v1M36.5 187v1M37.5 188v1M38.5 189v1M41.5 191v1M42.5 192v1M43.5 193v1M46.5 195v1M47.5 196v1M48.5 197v1M49.5 198v1M52.5 200v1M53.5 201v1M58.5 204v1M61.5 206v1M66.5 209v1M213.5 252v1M216.5 254v1M219.5 256v1M222.5 258v1M223.5 259v1M226.5 261v1M229.5 263v1M234.5 266v1M237.5 268v1M242.5 271v1M245.5 273v1M248.5 275v1M251.5 277v1M254.5 279v1M255.5 280v1M258.5 282v1M261.5 284v1M264.5 286v1M265.5 287v1M268.5 289v1M269.5 290v1M272.5 292v1M273.5 293v1M276.5 295v1M277.5 296v1M280.5 298v1M283.5 300v1M286.5 302v1M287.5 303v1M290.5 305v1M293.5 307v1M298.5 310v1M301.5 312v1M306.5 315v1M360.5 334v1M361.5 335v1M364.5 337v1M365.5 338v1M368.5 340v1M369.5 341v1M372.5 343v1M373.5 344v1M378.5 347v1M381.5 349v1M386.5 352v1M389.5 354v1M398.5 359v1M1070.5 359v1M1077.5 355v1M1086.5 350v1M1118.5 334v1M1125.5 330v1M1134.5 325v1M1141.5 321v1M1146.5 318v1M1149.5 316v1M1154.5 313v1M1157.5 311v1M1166.5 306v1M1173.5 302v1M1178.5 299v1M1181.5 297v1M1186.5 294v1M1189.5 292v1M1198.5 287v1M1237.5 268v1M1246.5 263v1M1269.5 251v1M1278.5 246v1M1301.5 234v1M1302.5 233v1M1305.5 231v1M1306.5 230v1M1307.5 229v1M1310.5 227v1M1311.5 226v1M1312.5 225v1M1313.5 224v1M1316.5 222v1M1317.5 221v1M1320.5 219v1M1321.5 218v1M1324.5 216v1M1325.5 215v1M1328.5 213v1M1329.5 212v1M1332.5 210v1M1333.5 209v1M1336.5 207v1M1337.5 206v1M1340.5 204v1M1341.5 203v1M1344.5 201v1M1345.5 200v1M1348.5 198v1M1349.5 197v1M1350.5 196v1M1353.5 194v1M1354.5 193v1M1355.5 192v1M1358.5 190v1M1359.5 189v1M1360.5 188v1M1361.5 187v1M1364.5 185v1M1365.5 184v1M1368.5 182v1M1371.5 180v1M1374.5 178v1M1375.5 177v1M1378.5 175v1" fill="none" stroke="#3cb371" stroke-width="1"/>
<path d="M1444 242.5h2M1441 243.5h3M1438 244.5h3M1434 245.5h4M1431 246.5h3M1429 247.5h2M1426 249.5h2M1422 252.5h2M1418 255.5h2M1414 258.5h2M1410 261.5h2M1406 264.5h2M1402 267.5h2M1398 270.5h2M1395 272.5h2M1392 274.5h2M1390 275.5h2M84 276.5h4M82 277.5h2M88 277.5h6M1387 277.5h2M80 278.5h2M94 278.5h5M78 279.5h2M99 279.5h5M1384 279.5h2M75 280.5h3M104 280.5h6M1382 280.5h2M73 281.5h2M110 281.5h5M71 282.5h2M115 282.5h3M1379 282.5h2M69 283.5h2M119 284.5h2M1376 284.5h2M1374 285.5h2M1371 287.5h2M124 288.5h2M1368 289.5h2M1366 290.5h2M130 293.5h2M136 298.5h2M144 305.5h2M183 349.5h2M188 353.5h2M1316 353.5h2M1314 354.5h2M1312 355.5h2M1310 356.5h2M1307 357.5h3M194 358.5h2M1305 358.5h2M1303 359.5h2M1301 360.5h2M1298 362.5h2M1292 367.5h2M1287 371.5h2M12 375.5h2M1280 377.5h2M709 380.5h3M712 381.5h6M718 382.5h5M723 383.5h3M704 384.5h2M1272 384.5h2M696 391.5h2M1250 406.5h2M1246 409.5h2M638 410.5h16M628 411.5h10M654 411.5h16M625 412.5h3M670 412.5h8M1242 412.5h2M622 413.5h3M618 414.5h4M615 415.5h3M1238 415.5h2M611 416.5h4M606 417.5h5M757 417.5h2M1235 417.5h2M600 418.5h6M759 418.5h2M1233 418.5h2M596 419.5h4M761 419.5h2M1231 419.5h2M594 420.5h2M763 420.5h2M1229 420.5h2M592 421.5h2M765 421.5h2M1227 421.5h2M590 422.5h2M767 422.5h2M1225 422.5h2M587 423.5h3M769 423.5h2M1223 423.5h2M585 424.5h2M771 424.5h2M1070 424.5h16M1220 424.5h3M583 425.5h2M773 425.5h3M1054 425.5h16M1086 425.5h10M1217 425.5h3M580 426.5h3M776 426.5h6M1044 426.5h10M1096 426.5h6M1214 426.5h3M576 427.5h4M782 427.5h5M958 427.5h16M1040 427.5h4M1102 427.5h5M1210 427.5h4M572 428.5h4M787 428.5h7M947 428.5h11M974 428.5h16M1036 428.5h4M1107 428.5h5M1207 428.5h3M568 429.5h4M794 429.5h8M942 429.5h5M990 429.5h32M1032 429.5h4M1112 429.5h6M1204 429.5h3M565 430.5h3M802 430.5h8M936 430.5h6M1022 430.5h10M1118 430.5h5M1202 430.5h2M563 431.5h2M810 431.5h8M910 431.5h26M1123 431.5h5M1199 431.5h3M561 432.5h2M818 432.5h92M1128 432.5h6M1196 432.5h3M559 433.5h2M1134 433.5h5M1194 433.5h2M1139 434.5h5M1191 434.5h3M556 435.5h2M1144 435.5h4M1186 435.5h5M554 436.5h2M1148 436.5h4M1178 436.5h8M552 437.5h2M1152 437.5h4M1166 437.5h12M550 438.5h2M1156 438.5h10M248 451.5h2M452 457.5h26M526 457.5h8M256 458.5h2M448 458.5h4M478 458.5h48M444 459.5h4M440 460.5h4M437 461.5h3M435 462.5h2M262 463.5h2M432 464.5h2M265 465.5h2M430 465.5h2M268 467.5h2M427 467.5h2M424 469.5h2M272 470.5h2M422 470.5h2M275 472.5h2M419 472.5h2M277 473.5h2M417 473.5h2M279 474.5h3M415 474.5h2M282 475.5h2M413 475.5h2M284 476.5h3M411 476.5h2M287 477.5h3M409 477.5h2M290 478.5h2M338 478.5h6M407 478.5h2M292 479.5h4M330 479.5h8M344 479.5h6M405 479.5h2M296 480.5h4M323 480.5h7M350 480.5h5M403 480.5h2M300 481.5h4M318 481.5h5M355 481.5h4M401 481.5h2M304 482.5h4M312 482.5h6M359 482.5h2M399 482.5h2M308 483.5h4M361 483.5h2M363 484.5h3M396 484.5h2M366 485.5h2M394 485.5h2M368 486.5h2M392 486.5h2M370 487.5h2M390 487.5h2M372 488.5h18M5.5 382v1M6.5 381v1M7.5 380v1M8.5 379v1M9.5 378v1M10.5 377v1M11.5 376v1M14.5 374v1M15.5 373v1M16.5 372v1M17.5 371v1M18.5 370v1M19.5 369v1M20.5 368v1M21.5 367v1M22.5 366v1M23.5 365v1M24.5 363v2M25.5 362v1M26.5 361v1M27.5 360v1M28.5 359v1M29.5 357v2M30.5 356v1M31.5 355v1M32.5 354v1M33.5 353v1M34.5 351v2M35.5 350v1M36.5 349v1M37.5 347v2M38.5 345v2M39.5 343v2M40.5 341v2M41.5 339v2M42.5 337v2M43.5 335v2M44.5 333v2M45.5 331v2M46.5 329v2M47.5 327v2M48.5 325v2M49.5 323v2M50.5 321v2M51.5 319v2M52.5 317v2M53.5 314v3M54.5 312v2M55.5 310v2M56.5 308v2M57.5 306v2M58.5 304v2M59.5 302v2M60.5 300v2M61.5 298v2M62.5 296v2M63.5 294v2M64.5 292v2M65.5 290v2M66.5 288v2M67.5 286v2M68.5 284v2M118.5 283v1M121.5 285v1M122.5 286v1M123.5 287v1M126.5 289v1M127.5 290v1M128.5 291v1M129.5 292v1M132.5 294v1M133.5 295v1M134.5 296v1M135.5 297v1M138.5 299v1M139.5 300v1M140.5 301v1M141.5 302v1M142.5 303v1M143.5 304v1M146.5 306v1M147.5 307v1M148.5 308v1M149.5 309v1M150.5 310v1M151.5 311v1M152.5 312v1M153.5 313v2M154.5 315v1M155.5 316v1M156.5 317v1M157.5 318v1M158.5 319v1M159.5 320v1M160.5 321v1M161.5 322v2M162.5 324v1M163.5 325v1M164.5 326v1M165.5 327v1M166.5 328v1M167.5 329v2M168.5 331v1M169.5 332v1M170.5 333v1M171.5 334v2M172.5 336v1M173.5 337v1M174.5 338v1M175.5 339v2M176.5 341v1M177.5 342v1M178.5 343v1M179.5 344v2M180.5 346v1M181.5 347v1M182.5 348v1M185.5 350v1M186.5 351v1M187.5 352v1M190.5 354v1M191.5 355v1M192.5 356v1M193.5 357v1M196.5 359v1M197.5 360v1M198.5 361v2M199.5 363v1M200.5 364v1M201.5 365v2M202.5 367v1M203.5 368v1M204.5 369v2M205.5 371v1M206.5 372v2M207.5 374v1M208.5 375v1M209.5 376v2M210.5 378v1M211.5 379v1M212.5 380v2M213.5 382v2M214.5 384v2M215.5 386v3M216.5 389v2M217.5 391v3M218.5 394v3M219.5 397v2M220.5 399v3M221.5 402v2M222.5 404v3M223.5 407v2M224.5 409v3M225.5 412v3M226.5 415v2M227.5 417v3M228.5 420v2M229.5 422v2M230.5 424v2M231.5 426v1M232.5 427v2M233.5 429v2M234.5 431v1M235.5 432v2M236.5 434v1M237.5 435v2M238.5 437v1M239.5 438v2M240.5 440v1M241.5 441v2M242.5 443v2M243.5 445v1M244.5 446v2M245.5 448v1M246.5 449v1M247.5 450v1M250.5 452v1M251.5 453v1M252.5 454v1M253.5 455v1M254.5 456v1M255.5 457v1M258.5 459v1M259.5 460v1M260.5 461v1M261.5 462v1M264.5 464v1M267.5 466v1M270.5 468v1M271.5 469v1M274.5 471v1M398.5 483v1M421.5 471v1M426.5 468v1M429.5 466v1M434.5 463v1M534.5 456v1M535.5 455v1M536.5 454v1M537.5 452v2M538.5 451v1M539.5 450v1M540.5 449v1M541.5 448v1M542.5 447v1M543.5 446v1M544.5 445v1M545.5 443v2M546.5 442v1M547.5 441v1M548.5 440v1M549.5 439v1M558.5 434v1M678.5 411v1M679.5 410v1M680.5 409v1M681.5 407v2M682.5 406v1M683.5 405v1M684.5 404v1M685.5 403v1M686.5 402v1M687.5 401v1M688.5 400v1M689.5 398v2M690.5 397v1M691.5 396v1M692.5 395v1M693.5 394v1M694.5 393v1M695.5 392v1M698.5 390v1M699.5 389v1M700.5 388v1M701.5 387v1M702.5 386v1M703.5 385v1M706.5 383v1M707.5 382v1M708.5 381v1M726.5 384v1M727.5 385v1M728.5 386v1M729.5 387v2M730.5 389v1M731.5 390v1M732.5 391v1M733.5 392v1M734.5 393v1M735.5 394v1M736.5 395v1M737.5 396v2M738.5 398v1M739.5 399v1M740.5 400v1M741.5 401v1M742.5 402v1M743.5 403v1M744.5 404v1M745.5 405v1M746.5 406v1M747.5 407v1M748.5 408v1M749.5 409v1M750.5 410v1M751.5 411v1M752.5 412v1M753.5 413v1M754.5 414v1M755.5 415v1M756.5 416v1M1237.5 416v1M1240.5 414v1M1241.5 413v1M1244.5 411v1M1245.5 410v1M1248.5 408v1M1249.5 407v1M1252.5 405v1M1253.5 404v1M1254.5 403v1M1255.5 402v1M1256.5 401v1M1257.5 400v1M1258.5 399v1M1259.5 398v1M1260.5 397v1M1261.5 395v2M1262.5 394v1M1263.5 393v1M1264.5 392v1M1265.5 391v1M1266.5 390v1M1267.5 389v1M1268.5 388v1M1269.5 387v1M1270.5 386v1M1271.5 385v1M1274.5 383v1M1275.5 382v1M1276.5 381v1M1277.5 380v1M1278.5 379v1M1279.5 378v1M1282.5 376v1M1283.5 375v1M1284.5 374v1M1285.5 373v1M1286.5 372v1M1289.5 370v1M1290.5 369v1M1291.5 368v1M1294.5 366v1M1295.5 365v1M1296.5 364v1M1297.5 363v1M1300.5 361v1M1318.5 352v1M1319.5 351v1M1320.5 350v1M1321.5 348v2M1322.5 347v1M1323.5 346v1M1324.5 345v1M1325.5 344v1M1326.5 343v1M1327.5 342v1M1328.5 341v1M1329.5 339v2M1330.5 338v1M1331.5 337v1M1332.5 336v1M1333.5 335v1M1334.5 334v1M1335.5 332v2M1336.5 331v1M1337.5 330v1M1338.5 329v1M1339.5 327v2M1340.5 326v1M1341.5 325v1M1342.5 324v1M1343.5 322v2M1344.5 321v1M1345.5 320v1M1346.5 319v1M1347.5 317v2M1348.5 316v1M1349.5 315v1M1350.5 313v2M1351.5 312v1M1352.5 310v2M1353.5 309v1M1354.5 307v2M1355.5 306v1M1356.5 304v2M1357.5 303v1M1358.5 301v2M1359.5 300v1M1360.5 298v2M1361.5 297v1M1362.5 295v2M1363.5 294v1M1364.5 292v2M1365.5 291v1M1370.5 288v1M1373.5 286v1M1378.5 283v1M1381.5 281v1M1386.5 278v1M1389.5 276v1M1394.5 273v1M1397.5 271v1M1400.5 269v1M1401.5 268v1M1404.5 266v1M1405.5 265v1M1408.5 263v1M1409.5 262v1M1412.5 260v1M1413.5 259v1M1416.5 257v1M1417.5 256v1M1420.5 254v1M1421.5 253v1M1424.5 251v1M1425.5 250v1M1428.5 248v1" fill="none" stroke="#3cb371" stroke-width="1"/>
<rect x="5" y="40" width="1836" height="1" fill="#ff0000"/>
<rect x="5" y="68" width="1836" height="1" fill="#ff0000"/>
<rect x="5" y="113" width="1836" height="1" fill="#ff0000"/>
<rect x="5" y="135" width="1836" height="1" fill="#ff0000"/>
<rect x="5.5" y="38.5" width="4" height="4" fill="#ffffff" stroke="#ff0000" stroke-width="1"/>
<rect x="1836.5" y="38.5" width="4" height="4" fill="#ffffff" stroke="#ff0000" stroke-width="1"/>
<rect x="5.5" y="111.5" width="4" height="4" fill="#ffffff" stroke="#ff0000" stroke-width="1"/>
<rect x="1836.5" y="111.5" width="4" height="4" fill="#ffffff" stroke="#ff0000" stroke-width="1"/>
<rect x="5.5" y="133.5" width="4" height="4" fill="#ffffff" stroke="#ff0000" stroke-width="1"/>
<rect x="1836.5" y="133.5" width="4" height="4" fill="#ffffff" stroke="#ff0000" stroke-width="1"/>
<rect x="1468" y="5" width="9" height="1" fill="#000"/>
<rect x="1469" y="6" width="7" height="1" fill="#000"/>
<rect x="1470" y="7" width="5" height="1" fill="#000"/>
<rect x="1471" y="8" width="3" height="1" fill="#000"/>
<rect x="1472" y="9" width="1" height="1" fill="#000"/>
</g>
<g clip-path="url(#cs)">
<path d="M1380 528.5h6M1377 529.5h3M1386 529.5h8M1374 530.5h3M1394 530.5h4M1370 531.5h4M1398 531.5h2M1367 532.5h3M1400 532.5h2M1364 533.5h3M1361 534.5h3M1403 534.5h2M1358 535.5h3M1354 536.5h4M1406 536.5h2M1351 537.5h3M1408 537.5h2M1346 538.5h5M1338 539.5h8M1411 539.5h2M1332 540.5h6M1413 540.5h2M1330 541.5h2M1415 541.5h2M1328 542.5h2M1417 542.5h2M1326 543.5h2M1419 543.5h3M1323 544.5h3M1422 544.5h2M1321 545.5h2M1424 545.5h2M1188 546.5h22M1319 546.5h2M1426 546.5h2M1185 547.5h3M1210 547.5h8M1317 547.5h2M1428 547.5h18M1182 548.5h3M1218 548.5h12M1315 548.5h2M1178 549.5h4M1230 549.5h12M1175 550.5h3M1242 550.5h8M1312 550.5h2M1172 551.5h3M1250 551.5h6M1310 551.5h2M1170 552.5h2M1256 552.5h4M1167 553.5h3M1260 553.5h4M1307 553.5h2M1164 554.5h3M1264 554.5h4M1162 555.5h2M1268 555.5h6M1304 555.5h2M1159 556.5h3M1274 556.5h8M1302 556.5h2M1157 557.5h2M1282 557.5h20M1155 558.5h2M1152 560.5h2M1150 561.5h2M1147 563.5h2M1144 565.5h2M1142 566.5h2M1139 568.5h2M1137 569.5h2M1135 570.5h2M1132 572.5h2M1130 573.5h2M1128 574.5h2M1126 575.5h2M1123 577.5h2M1120 579.5h2M1118 580.5h2M1115 582.5h2M1112 584.5h2M1110 585.5h2M1107 587.5h2M1105 588.5h2M1103 589.5h2M1101 590.5h2M1099 591.5h2M1097 592.5h2M1095 593.5h2M1093 594.5h2M1091 595.5h2M1089 596.5h2M1087 597.5h2M1084 599.5h2M1082 600.5h2M1080 601.5h2M1078 602.5h2M1074 605.5h2M1070 608.5h2M1066 611.5h2M1062 614.5h2M1059 616.5h2M1056 618.5h2M1054 619.5h2M1051 621.5h2M1048 623.5h2M1046 624.5h2M1038 625.5h8M1026 626.5h12M1018 627.5h8M996 628.5h22M992 629.5h4M988 630.5h4M984 631.5h4M980 632.5h4M976 633.5h4M972 634.5h4M968 635.5h4M963 636.5h5M958 637.5h5M926 638.5h16M952 638.5h6M914 639.5h12M942 639.5h10M638 640.5h16M906 640.5h8M628 641.5h10M654 641.5h10M900 641.5h6M624 642.5h4M664 642.5h6M898 642.5h2M620 643.5h4M670 643.5h5M896 643.5h2M616 644.5h4M675 644.5h7M894 644.5h2M596 645.5h20M682 645.5h8M891 645.5h3M593 646.5h3M690 646.5h21M889 646.5h2M590 647.5h3M711 647.5h2M887 647.5h2M586 648.5h4M713 648.5h2M884 648.5h3M583 649.5h3M715 649.5h3M881 649.5h3M578 650.5h5M718 650.5h2M878 650.5h3M570 651.5h8M720 651.5h2M874 651.5h4M558 652.5h12M722 652.5h2M871 652.5h3M542 653.5h16M724 653.5h3M867 653.5h4M532 654.5h10M727 654.5h2M862 654.5h5M529 655.5h3M729 655.5h2M856 655.5h6M526 656.5h3M731 656.5h2M852 656.5h4M522 657.5h4M733 657.5h2M848 657.5h4M519 658.5h3M735 658.5h2M844 658.5h4M516 659.5h3M737 659.5h2M840 659.5h4M513 660.5h3M739 660.5h2M836 660.5h4M510 661.5h3M741 661.5h2M832 661.5h4M506 662.5h4M743 662.5h2M828 662.5h4M503 663.5h3M745 663.5h2M824 663.5h4M500 664.5h3M747 664.5h3M819 664.5h5M496 665.5h4M750 665.5h2M814 665.5h5M492 666.5h4M752 666.5h2M808 666.5h6M488 667.5h4M754 667.5h2M802 667.5h6M485 668.5h3M756 668.5h4M794 668.5h8M483 669.5h2M760 669.5h6M786 669.5h8M481 670.5h2M766 670.5h5M778 670.5h8M479 671.5h2M771 671.5h7M477 672.5h2M475 673.5h2M473 674.5h2M471 675.5h2M469 676.5h2M467 677.5h2M464 679.5h2M460 682.5h2M457 684.5h2M454 686.5h2M451 688.5h2M84 689.5h10M449 689.5h2M81 690.5h3M94 690.5h16M447 690.5h2M78 691.5h3M110 691.5h9M74 692.5h4M119 692.5h2M444 692.5h2M71 693.5h3M121 693.5h2M442 693.5h2M5 694.5h18M67 694.5h4M123 694.5h2M440 694.5h2M23 695.5h2M62 695.5h5M125 695.5h2M438 695.5h2M25 696.5h2M56 696.5h6M127 696.5h2M27 697.5h3M52 697.5h4M129 697.5h2M435 697.5h2M30 698.5h2M48 698.5h4M131 698.5h2M433 698.5h2M32 699.5h2M44 699.5h4M133 699.5h2M431 699.5h2M34 700.5h2M40 700.5h4M135 700.5h2M429 700.5h2M36 701.5h4M137 701.5h2M427 701.5h2M139 702.5h2M425 702.5h2M141 703.5h2M423 703.5h2M143 704.5h2M421 704.5h2M145 705.5h2M419 705.5h2M147 706.5h2M149 707.5h2M416 707.5h2M151 708.5h2M153 709.5h2M155 710.5h2M412 710.5h2M157 711.5h2M159 712.5h2M356 712.5h3M409 712.5h2M161 713.5h2M354 713.5h2M359 713.5h3M163 714.5h2M351 714.5h3M362 714.5h2M406 714.5h2M348 715.5h3M364 715.5h3M403 715.5h3M166 716.5h2M346 716.5h2M367 716.5h3M398 716.5h5M168 717.5h2M343 717.5h3M370 717.5h2M392 717.5h6M341 718.5h2M372 718.5h20M171 719.5h2M338 720.5h2M174 721.5h2M176 722.5h2M334 723.5h2M179 724.5h2M181 725.5h5M186 726.5h8M330 726.5h2M194 727.5h5M199 728.5h2M201 729.5h2M326 729.5h2M203 730.5h2M205 731.5h2M207 732.5h2M209 733.5h2M211 734.5h2M320 734.5h2M312 741.5h2M308 744.5h2M304 745.5h4M300 746.5h4M296 747.5h4M292 748.5h4M290 749.5h2M288 750.5h2M286 751.5h2M229 752.5h2M283 752.5h3M231 753.5h3M281 753.5h2M234 754.5h4M279 754.5h2M238 755.5h3M270 755.5h9M241 756.5h3M254 756.5h16M244 757.5h10M165.5 715v1M170.5 718v1M173.5 720v1M178.5 723v1M213.5 735v1M214.5 736v1M215.5 737v1M216.5 738v1M217.5 739v1M218.5 740v1M219.5 741v1M220.5 742v1M221.5 743v2M222.5 745v1M223.5 746v1M224.5 747v1M225.5 748v1M226.5 749v1M227.5 750v1M228.5 751v1M310.5 743v1M311.5 742v1M314.5 740v1M315.5 739v1M316.5 738v1M317.5 737v1M318.5 736v1M319.5 735v1M322.5 733v1M323.5 732v1M324.5 731v1M325.5 730v1M328.5 728v1M329.5 727v1M332.5 725v1M333.5 724v1M336.5 722v1M337.5 721v1M340.5 719v1M408.5 713v1M411.5 711v1M414.5 709v1M415.5 708v1M418.5 706v1M437.5 696v1M446.5 691v1M453.5 687v1M456.5 685v1M459.5 683v1M462.5 681v1M463.5 680v1M466.5 678v1M1050.5 622v1M1053.5 620v1M1058.5 617v1M1061.5 615v1M1064.5 613v1M1065.5 612v1M1068.5 610v1M1069.5 609v1M1072.5 607v1M1073.5 606v1M1076.5 604v1M1077.5 603v1M1086.5 598v1M1109.5 586v1M1114.5 583v1M1117.5 581v1M1122.5 578v1M1125.5 576v1M1134.5 571v1M1141.5 567v1M1146.5 564v1M1149.5 562v1M1154.5 559v1M1306.5 554v1M1309.5 552v1M1314.5 549v1M1402.5 533v1M1405.5 535v1M1410.5 538v1" fill="none" stroke="#0000ff" stroke-width="1"/>
<path d="M1425 539.5h21M1417 540.5h29M1405 541.5h21M1393 542.5h25M1385 543.5h21M1377 544.5h17M1369 545.5h17M1362 546.5h16M1357 547.5h13M1351 548.5h12M1341 549.5h17M1293 550.5h59M1277 551.5h65M1266 552.5h28M1261 553.5h17M1255 554.5h12M1250 555.5h12M1245 556.5h11M1239 557.5h12M1235 558.5h11M1232 559.5h8M1229 560.5h7M1225 561.5h8M1222 562.5h8M1219 563.5h7M1217 564.5h6M1215 565.5h5M1213 566.5h5M1210 567.5h6M1208 568.5h6M1206 569.5h5M1204 570.5h5M1202 571.5h5M1200 572.5h5M1198 573.5h5M1197 574.5h4M1195 575.5h4M1193 576.5h5M1191 577.5h5M1189 578.5h5M1188 579.5h4M1186 580.5h4M1184 581.5h5M1182 582.5h5M1180 583.5h5M1178 584.5h5M1176 585.5h5M1174 586.5h5M1172 587.5h5M1170 588.5h5M1168 589.5h5M1166 590.5h5M1165 591.5h4M1163 592.5h4M1161 593.5h5M1159 594.5h5M1157 595.5h5M1155 596.5h5M1153 597.5h5M1151 598.5h5M1149 599.5h5M1146 600.5h6M1144 601.5h6M1142 602.5h5M1139 603.5h6M1137 604.5h6M1134 605.5h6M1131 606.5h7M1129 607.5h6M1126 608.5h6M1123 609.5h7M1121 610.5h6M1119 611.5h5M1117 612.5h5M1114 613.5h6M1112 614.5h6M1110 615.5h5M1107 616.5h6M1104 617.5h7M1101 618.5h7M1097 619.5h8M1094 620.5h8M1091 621.5h7M1088 622.5h7M1085 623.5h7M1081 624.5h8M1078 625.5h8M1075 626.5h7M1071 627.5h8M1067 628.5h9M1063 629.5h9M1057 630.5h11M1049 631.5h15M1037 632.5h21M1026 633.5h24M1021 634.5h17M1015 635.5h12M1010 636.5h12M1005 637.5h11M999 638.5h12M994 639.5h12M989 640.5h11M983 641.5h12M978 642.5h12M973 643.5h11M701 644.5h17M967 644.5h12M669 645.5h65M963 645.5h11M657 646.5h45M717 646.5h27M959 646.5h9M649 647.5h21M733 647.5h17M955 647.5h9M642 648.5h16M743 648.5h12M951 648.5h9M637 649.5h13M749 649.5h11M945 649.5h11M631 650.5h12M754 650.5h12M937 650.5h15M626 651.5h12M759 651.5h12M930 651.5h16M621 652.5h11M765 652.5h11M925 652.5h13M615 653.5h12M770 653.5h12M919 653.5h12M610 654.5h12M775 654.5h12M915 654.5h11M605 655.5h11M781 655.5h11M911 655.5h9M599 656.5h12M786 656.5h12M907 656.5h9M595 657.5h11M791 657.5h12M903 657.5h9M592 658.5h8M797 658.5h11M899 658.5h9M589 659.5h7M802 659.5h12M895 659.5h9M585 660.5h8M807 660.5h12M891 660.5h9M582 661.5h8M813 661.5h17M887 661.5h9M579 662.5h7M818 662.5h74M577 663.5h6M829 663.5h59M574 664.5h6M571 665.5h7M569 666.5h6M566 667.5h6M563 668.5h7M560 669.5h7M557 670.5h7M553 671.5h8M550 672.5h8M547 673.5h7M545 674.5h6M543 675.5h5M541 676.5h5M538 677.5h6M536 678.5h6M534 679.5h5M531 680.5h6M529 681.5h6M527 682.5h5M525 683.5h5M522 684.5h6M520 685.5h6M518 686.5h5M515 687.5h6M513 688.5h6M511 689.5h5M509 690.5h5M506 691.5h6M504 692.5h6M502 693.5h5M98 694.5h44M499 694.5h6M93 695.5h61M495 695.5h8M87 696.5h12M141 696.5h21M491 696.5h9M81 697.5h13M153 697.5h15M487 697.5h9M73 698.5h15M161 698.5h13M483 698.5h9M67 699.5h15M167 699.5h12M481 699.5h7M63 700.5h11M173 700.5h10M478 700.5h6M59 701.5h9M178 701.5h8M475 701.5h7M55 702.5h9M182 702.5h8M473 702.5h6M51 703.5h9M185 703.5h8M470 703.5h6M47 704.5h9M189 704.5h7M467 704.5h7M43 705.5h9M192 705.5h8M465 705.5h6M39 706.5h9M195 706.5h9M462 706.5h6M29 707.5h15M199 707.5h9M459 707.5h7M17 708.5h23M203 708.5h9M457 708.5h6M9 709.5h21M207 709.5h8M454 709.5h6M4 710.5h14M211 710.5h6M451 710.5h7M4 711.5h6M214 711.5h5M449 711.5h6M216 712.5h6M446 712.5h6M218 713.5h6M443 713.5h7M221 714.5h5M441 714.5h6M223 715.5h5M438 715.5h6M225 716.5h6M435 716.5h7M227 717.5h6M433 717.5h6M230 718.5h5M431 718.5h5M232 719.5h5M429 719.5h5M234 720.5h5M426 720.5h6M236 721.5h5M424 721.5h6M238 722.5h5M422 722.5h5M240 723.5h5M419 723.5h6M242 724.5h5M417 724.5h6M244 725.5h5M414 725.5h6M246 726.5h5M411 726.5h7M248 727.5h5M409 727.5h6M250 728.5h5M406 728.5h6M252 729.5h5M403 729.5h7M254 730.5h5M399 730.5h8M256 731.5h5M395 731.5h9M258 732.5h5M391 732.5h9M260 733.5h6M387 733.5h9M262 734.5h6M384 734.5h8M265 735.5h6M381 735.5h7M267 736.5h7M377 736.5h8M270 737.5h6M374 737.5h8M273 738.5h7M371 738.5h7M275 739.5h9M367 739.5h8M279 740.5h9M363 740.5h9M283 741.5h9M359 741.5h9M287 742.5h11M353 742.5h11M291 743.5h15M345 743.5h15M297 744.5h57M305 745.5h41" fill="none" stroke="#ff0000" stroke-width="1"/>
<rect x="4" y="610" width="2" height="22" fill="#ff0000"/>
<rect x="20" y="613" width="2" height="19" fill="#ff0000"/>
<rect x="36" y="625" width="2" height="7" fill="#ff0000"/>
<rect x="52" y="625" width="2" height="7" fill="#ff0000"/>
<rect x="68" y="624" width="2" height="8" fill="#ff0000"/>
<rect x="84" y="622" width="2" height="10" fill="#ff0000"/>
<rect x="100" y="626" width="2" height="6" fill="#ff0000"/>
<rect x="116" y="629" width="2" height="3" fill="#ff0000"/>
<rect x="132" y="632" width="2" height="7" fill="#008000"/>
<rect x="148" y="632" width="2" height="16" fill="#008000"/>
<rect x="164" y="632" width="2" height="24" fill="#008000"/>
<rect x="180" y="632" width="2" height="32" fill="#008000"/>
<rect x="196" y="632" width="2" height="31" fill="#008000"/>
<rect x="212" y="632" width="2" height="36" fill="#008000"/>
<rect x="228" y="632" width="2" height="48" fill="#008000"/>
<rect x="244" y="632" width="2" height="46" fill="#008000"/>
<rect x="260" y="632" width="2" height="34" fill="#008000"/>
<rect x="276" y="632" width="2" height="25" fill="#008000"/>
<rect x="292" y="632" width="2" height="12" fill="#008000"/>
<rect x="308" y="632" width="2" height="2" fill="#008000"/>
<rect x="324" y="613" width="2" height="19" fill="#ff0000"/>
<rect x="340" y="599" width="2" height="33" fill="#ff0000"/>
<rect x="356" y="594" width="2" height="38" fill="#ff0000"/>
<rect x="372" y="607" width="2" height="25" fill="#ff0000"/>
<rect x="388" y="613" width="2" height="19" fill="#ff0000"/>
<rect x="404" y="614" width="2" height="18" fill="#ff0000"/>
<rect x="420" y="608" width="2" height="24" fill="#ff0000"/>
<rect x="436" y="605" width="2" height="27" fill="#ff0000"/>
<rect x="452" y="602" width="2" height="30" fill="#ff0000"/>
<rect x="468" y="595" width="2" height="37" fill="#ff0000"/>
<rect x="484" y="592" width="2" height="40" fill="#ff0000"/>
<rect x="500" y="593" width="2" height="39" fill="#ff0000"/>
<rect x="516" y="596" width="2" height="36" fill="#ff0000"/>
<rect x="532" y="598" width="2" height="34" fill="#ff0000"/>
<rect x="548" y="606" width="2" height="26" fill="#ff0000"/>
<rect x="564" y="611" width="2" height="21" fill="#ff0000"/>
<rect x="580" y="616" width="2" height="16" fill="#ff0000"/>
<rect x="596" y="616" width="2" height="16" fill="#ff0000"/>
<rect x="612" y="621" width="2" height="11" fill="#ff0000"/>
<rect x="628" y="619" width="2" height="13" fill="#ff0000"/>
<rect x="644" y="621" width="2" height="11" fill="#ff0000"/>
<rect x="660" y="625" width="2" height="7" fill="#ff0000"/>
<rect x="676" y="630" width="2" height="2" fill="#ff0000"/>
<rect x="692" y="632" width="2" height="3" fill="#008000"/>
<rect x="708" y="632" width="2" height="4" fill="#008000"/>
<rect x="724" y="632" width="2" height="12" fill="#008000"/>
<rect x="740" y="632" width="2" height="21" fill="#008000"/>
<rect x="756" y="632" width="2" height="27" fill="#008000"/>
<rect x="772" y="632" width="2" height="26" fill="#008000"/>
<rect x="788" y="632" width="2" height="19" fill="#008000"/>
<rect x="804" y="632" width="2" height="13" fill="#008000"/>
<rect x="820" y="632" width="2" height="6" fill="#008000"/>
<rect x="836" y="629" width="2" height="3" fill="#ff0000"/>
<rect x="852" y="624" width="2" height="8" fill="#ff0000"/>
<rect x="868" y="619" width="2" height="13" fill="#ff0000"/>
<rect x="884" y="615" width="2" height="17" fill="#ff0000"/>
<rect x="900" y="610" width="2" height="22" fill="#ff0000"/>
<rect x="916" y="611" width="2" height="21" fill="#ff0000"/>
<rect x="932" y="614" width="2" height="18" fill="#ff0000"/>
<rect x="948" y="619" width="2" height="13" fill="#ff0000"/>
<rect x="964" y="620" width="2" height="12" fill="#ff0000"/>
<rect x="980" y="619" width="2" height="13" fill="#ff0000"/>
<rect x="996" y="618" width="2" height="14" fill="#ff0000"/>
<rect x="1012" y="622" width="2" height="10" fill="#ff0000"/>
<rect x="1028" y="622" width="2" height="10" fill="#ff0000"/>
<rect x="1044" y="623" width="2" height="9" fill="#ff0000"/>
<rect x="1060" y="615" width="2" height="17" fill="#ff0000"/>
<rect x="1076" y="604" width="2" height="28" fill="#ff0000"/>
<rect x="1092" y="597" width="2" height="35" fill="#ff0000"/>
<rect x="1108" y="594" width="2" height="38" fill="#ff0000"/>
<rect x="1124" y="589" width="2" height="43" fill="#ff0000"/>
<rect x="1140" y="586" width="2" height="46" fill="#ff0000"/>
<rect x="1156" y="584" width="2" height="48" fill="#ff0000"/>
<rect x="1172" y="587" width="2" height="45" fill="#ff0000"/>
<rect x="1188" y="591" width="2" height="41" fill="#ff0000"/>
<rect x="1204" y="601" width="2" height="31" fill="#ff0000"/>
<rect x="1220" y="613" width="2" height="19" fill="#ff0000"/>
<rect x="1236" y="620" width="2" height="12" fill="#ff0000"/>
<rect x="1252" y="628" width="2" height="4" fill="#ff0000"/>
<rect x="1268" y="632" width="2" height="5" fill="#008000"/>
<rect x="1284" y="632" width="2" height="9" fill="#008000"/>
<rect x="1300" y="632" width="2" height="10" fill="#008000"/>
<rect x="1316" y="627" width="2" height="5" fill="#ff0000"/>
<rect x="1332" y="620" width="2" height="12" fill="#ff0000"/>
<rect x="1348" y="618" width="2" height="14" fill="#ff0000"/>
<rect x="1364" y="614" width="2" height="18" fill="#ff0000"/>
<rect x="1380" y="610" width="2" height="22" fill="#ff0000"/>
<rect x="1396" y="617" width="2" height="15" fill="#ff0000"/>
<rect x="1412" y="631" width="2" height="1" fill="#ff0000"/>
<rect x="1428" y="632" width="2" height="10" fill="#008000"/>
<rect x="1444" y="632" width="2" height="12" fill="#008000"/>
</g>
<rect x="4" y="4" width="1838" height="1" fill="#000"/>
<rect x="4" y="513" width="1838" height="1" fill="#000"/>
<rect x="4" y="515" width="1838" height="1" fill="#000"/>
<rect x="4" y="769" width="1838" height="1" fill="#000"/>
<rect x="4" y="4" width="1" height="510" fill="#000"/>
<rect x="4" y="515" width="1" height="255" fill="#000"/>
<rect x="1841" y="4" width="1" height="766" fill="#000"/>
<rect x="1842" y="15" width="2" height="1" fill="#000"/>
<text x="1846.6" y="19" textLength="33.4" lengthAdjust="spacingAndGlyphs">4263.45</text>
<rect x="1842" y="48" width="2" height="1" fill="#000"/>
<text x="1846.6" y="52" textLength="33.4" lengthAdjust="spacingAndGlyphs">4237.20</text>
<rect x="1842" y="81" width="2" height="1" fill="#000"/>
<text x="1846.6" y="85" textLength="33.4" lengthAdjust="spacingAndGlyphs">4210.95</text>
<rect x="1842" y="114" width="2" height="1" fill="#000"/>
<rect x="1842" y="147" width="2" height="1" fill="#000"/>
<text x="1846.6" y="151" textLength="33.4" lengthAdjust="spacingAndGlyphs">4159.20</text>
<rect x="1842" y="180" width="2" height="1" fill="#000"/>
<text x="1846.6" y="184" textLength="33.4" lengthAdjust="spacingAndGlyphs">4132.95</text>
<rect x="1842" y="213" width="2" height="1" fill="#000"/>
<text x="1846.6" y="217" textLength="33.4" lengthAdjust="spacingAndGlyphs">4106.70</text>
<rect x="1842" y="246" width="2" height="1" fill="#000"/>
<text x="1846.6" y="250" textLength="33.4" lengthAdjust="spacingAndGlyphs">4080.45</text>
<rect x="1842" y="279" width="2" height="1" fill="#000"/>
<text x="1846.6" y="283" textLength="33.4" lengthAdjust="spacingAndGlyphs">4054.20</text>
<rect x="1842" y="312" width="2" height="1" fill="#000"/>
<text x="1846.6" y="316" textLength="33.4" lengthAdjust="spacingAndGlyphs">4028.70</text>
<rect x="1842" y="345" width="2" height="1" fill="#000"/>
<text x="1846.6" y="349" textLength="33.4" lengthAdjust="spacingAndGlyphs">4002.45</text>
<rect x="1842" y="378" width="2" height="1" fill="#000"/>
<text x="1846.6" y="382" textLength="33.4" lengthAdjust="spacingAndGlyphs">3976.20</text>
<rect x="1842" y="411" width="2" height="1" fill="#000"/>
<text x="1846.6" y="415" textLength="33.4" lengthAdjust="spacingAndGlyphs">3949.95</text>
<rect x="1842" y="444" width="2" height="1" fill="#000"/>
<text x="1846.6" y="448" textLength="33.4" lengthAdjust="spacingAndGlyphs">3923.70</text>
<rect x="1842" y="477" width="2" height="1" fill="#000"/>
<text x="1846.6" y="481" textLength="33.4" lengthAdjust="spacingAndGlyphs">3897.45</text>
<rect x="1842" y="510" width="2" height="1" fill="#000"/>
<text x="1846.6" y="514" textLength="33.4" lengthAdjust="spacingAndGlyphs">3871.95</text>
<rect x="1842" y="517" width="1" height="1" fill="#000"/><text x="1844.6" y="526" textLength="28.2" lengthAdjust="spacingAndGlyphs">50.722</text>
<rect x="1842" y="632" width="1" height="1" fill="#000"/><text x="1844.6" y="636" textLength="18.4" lengthAdjust="spacingAndGlyphs">0.00</text>
<rect x="1842" y="768" width="1" height="1" fill="#000"/><text x="1844.8" y="766" textLength="31.4" lengthAdjust="spacingAndGlyphs">-59.479</text>
<rect x="1843" y="34" width="41" height="11" fill="#ff0000"/>
<text x="1846.6" y="43" textLength="33.4" lengthAdjust="spacingAndGlyphs" style="fill:#fff;stroke:#fff">4243.24</text>
<rect x="1843" y="62" width="41" height="11" fill="#ff0000"/>
<text x="1846.6" y="71" textLength="33.4" lengthAdjust="spacingAndGlyphs" style="fill:#fff;stroke:#fff">4221.25</text>
<rect x="1843" y="86" width="41" height="11" fill="#000000"/>
<text x="1846.6" y="95" textLength="33.4" lengthAdjust="spacingAndGlyphs" style="fill:#fff;stroke:#fff">4203.39</text>
<rect x="1843" y="107" width="41" height="11" fill="#ff0000"/>
<text x="1846.6" y="116" textLength="33.4" lengthAdjust="spacingAndGlyphs" style="fill:#fff;stroke:#fff">4185.83</text>
<rect x="1843" y="129" width="41" height="11" fill="#ff0000"/>
<text x="1846.6" y="138" textLength="33.4" lengthAdjust="spacingAndGlyphs" style="fill:#fff;stroke:#fff">4168.48</text>
<rect x="5" y="770" width="1" height="2" fill="#000"/>
<text x="3.8" y="782" textLength="50.6" lengthAdjust="spacingAndGlyphs">24 Oct 2025</text>
<rect x="69" y="770" width="1" height="2" fill="#000"/>
<text x="67.8" y="782" textLength="54.4" lengthAdjust="spacingAndGlyphs">24 Oct 17:00</text>
<rect x="133" y="770" width="1" height="2" fill="#000"/>
<text x="131.8" y="782" textLength="54.4" lengthAdjust="spacingAndGlyphs">27 Oct 09:00</text>
<rect x="197" y="770" width="1" height="2" fill="#000"/>
<text x="195.8" y="782" textLength="54.4" lengthAdjust="spacingAndGlyphs">28 Oct 01:00</text>
<rect x="261" y="770" width="1" height="2" fill="#000"/>
<text x="259.8" y="782" textLength="54.4" lengthAdjust="spacingAndGlyphs">28 Oct 17:00</text>
<rect x="325" y="770" width="1" height="2" fill="#000"/>
<text x="323.8" y="782" textLength="54.4" lengthAdjust="spacingAndGlyphs">29 Oct 09:00</text>
<rect x="389" y="770" width="1" height="2" fill="#000"/>
<text x="387.8" y="782" textLength="54.4" lengthAdjust="spacingAndGlyphs">30 Oct 01:00</text>
<rect x="453" y="770" width="1" height="2" fill="#000"/>
<text x="451.8" y="782" textLength="54.4" lengthAdjust="spacingAndGlyphs">30 Oct 17:00</text>
<rect x="517" y="770" width="1" height="2" fill="#000"/>
<text x="515.8" y="782" textLength="54.4" lengthAdjust="spacingAndGlyphs">31 Oct 09:00</text>
<rect x="581" y="770" width="1" height="2" fill="#000"/>
<text x="579.8" y="782" textLength="52.4" lengthAdjust="spacingAndGlyphs">3 Nov 01:00</text>
<rect x="645" y="770" width="1" height="2" fill="#000"/>
<text x="643.8" y="782" textLength="52.4" lengthAdjust="spacingAndGlyphs">3 Nov 17:00</text>
<rect x="709" y="770" width="1" height="2" fill="#000"/>
<text x="707.8" y="782" textLength="52.4" lengthAdjust="spacingAndGlyphs">4 Nov 09:00</text>
<rect x="773" y="770" width="1" height="2" fill="#000"/>
<text x="771.8" y="782" textLength="52.4" lengthAdjust="spacingAndGlyphs">5 Nov 01:00</text>
<rect x="837" y="770" width="1" height="2" fill="#000"/>
<text x="835.8" y="782" textLength="52.4" lengthAdjust="spacingAndGlyphs">5 Nov 17:00</text>
<rect x="901" y="770" width="1" height="2" fill="#000"/>
<text x="899.8" y="782" textLength="52.4" lengthAdjust="spacingAndGlyphs">6 Nov 09:00</text>
<rect x="965" y="770" width="1" height="2" fill="#000"/>
<text x="963.8" y="782" textLength="52.4" lengthAdjust="spacingAndGlyphs">7 Nov 01:00</text>
<rect x="1029" y="770" width="1" height="2" fill="#000"/>
<text x="1027.8" y="782" textLength="52.4" lengthAdjust="spacingAndGlyphs">7 Nov 17:00</text>
<rect x="1093" y="770" width="1" height="2" fill="#000"/>
<text x="1091.8" y="782" textLength="57.2" lengthAdjust="spacingAndGlyphs">10 Nov 09:00</text>
<rect x="1157" y="770" width="1" height="2" fill="#000"/>
<text x="1155.8" y="782" textLength="57.2" lengthAdjust="spacingAndGlyphs">11 Nov 01:00</text>
<rect x="1221" y="770" width="1" height="2" fill="#000"/>
<text x="1219.8" y="782" textLength="57.2" lengthAdjust="spacingAndGlyphs">11 Nov 17:00</text>
<rect x="1285" y="770" width="1" height="2" fill="#000"/>
<text x="1283.8" y="782" textLength="57.2" lengthAdjust="spacingAndGlyphs">12 Nov 09:00</text>
<rect x="1349" y="770" width="1" height="2" fill="#000"/>
<text x="1347.8" y="782" textLength="57.2" lengthAdjust="spacingAndGlyphs">13 Nov 01:00</text>
<rect x="1413" y="770" width="1" height="2" fill="#000"/>
<text x="1411.8" y="782" textLength="57.2" lengthAdjust="spacingAndGlyphs">13 Nov 17:00</text>
<text x="8.6" y="16" textLength="70.6" lengthAdjust="spacingAndGlyphs">XAUUSD.pro,H4</text>
<text x="85" y="16" textLength="33.4" lengthAdjust="spacingAndGlyphs">4171.49</text>
<text x="121" y="16" textLength="33.4" lengthAdjust="spacingAndGlyphs">4204.70</text>
<text x="157" y="16" textLength="33.4" lengthAdjust="spacingAndGlyphs">4170.12</text>
<text x="193" y="16" textLength="33.4" lengthAdjust="spacingAndGlyphs">4203.39</text>
<text x="9.0" y="528" textLength="66.6" lengthAdjust="spacingAndGlyphs">MACD(12,26,9)</text>
<text x="78.1" y="528" textLength="28.0" lengthAdjust="spacingAndGlyphs">37.321</text>
<text x="108.7" y="528" textLength="28.0" lengthAdjust="spacingAndGlyphs">40.898</text>
<text x="139.9" y="528" textLength="23.4" lengthAdjust="spacingAndGlyphs">0.000</text>
<text x="165.7" y="528" textLength="26.6" lengthAdjust="spacingAndGlyphs">-4.650</text>
</svg></body></html>
